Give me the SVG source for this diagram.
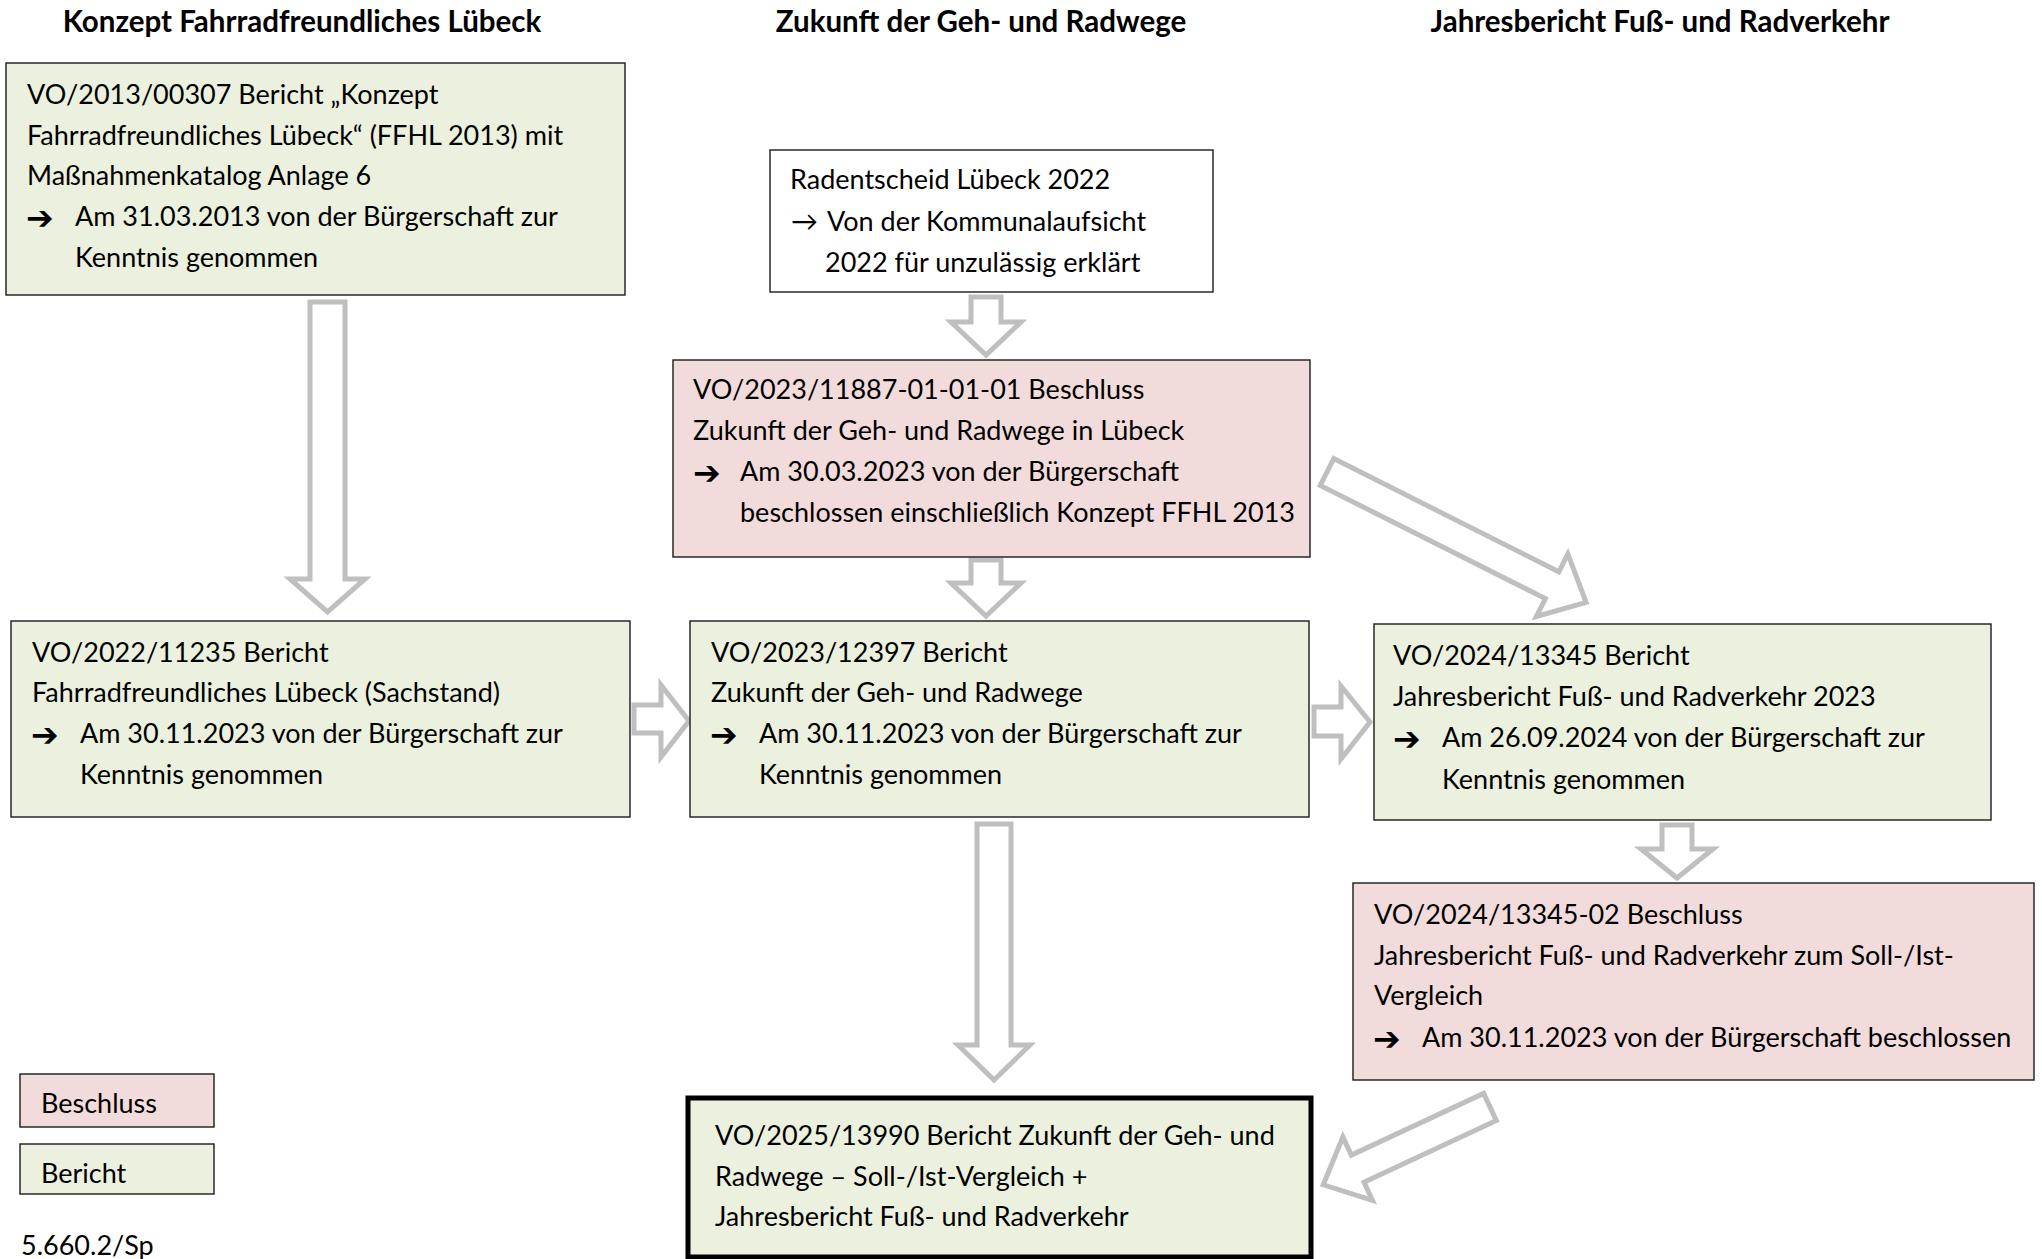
<svg xmlns="http://www.w3.org/2000/svg" width="2042" height="1259" viewBox="0 0 2042 1259">
<style>
.t{font-family:Lato,"Liberation Sans",sans-serif;font-size:27px;fill:#000}
.h{font-weight:bold;text-anchor:middle;font-size:29.5px}
.ar{font-family:"DejaVu Sans",sans-serif;font-size:33px;font-weight:bold;fill:#000}
.bx{stroke:#1a1a1a;stroke-width:1.4}
.gr{fill:#EBF1DE}
.pk{fill:#F2DCDB}
.wh{fill:#ffffff}
.fin{fill:#EBF1DE;stroke:#000;stroke-width:5}
.arrow{fill:#ffffff;stroke:#bfbfbf;stroke-width:5;stroke-linejoin:miter}
</style>
<rect x="0" y="0" width="2042" height="1259" fill="#ffffff"/>

<g id="titles">
<text class="t h" x="302" y="32">Konzept Fahrradfreundliches Lübeck</text>
<text class="t h" x="981" y="32">Zukunft der Geh- und Radwege</text>
<text class="t h" x="1660" y="32">Jahresbericht Fuß- und Radverkehr</text>
</g>

<g id="connectors">
<polygon class="arrow" points="310,302 345,302 345,579 365,579 327.5,612 290,579 310,579"/>
<polygon class="arrow" points="971,297 1001,297 1001,322 1021,322 986,355 951,322 971,322"/>
<polygon class="arrow" points="971,560 1001,560 1001,583 1021,583 986,616 951,583 971,583"/>
<polygon class="arrow" points="634,705 661,705 661,685 689,721 661,757 661,733 634,733"/>
<polygon class="arrow" points="1314,707 1341,707 1341,686 1370,722 1341,759 1341,736 1314,736"/>
<polygon class="arrow" points="977,824 1011,824 1011,1045 1030,1045 994,1080 958,1045 977,1045"/>
<polygon class="arrow" points="1662,825 1692,825 1692,849 1713,849 1677,878 1641,849 1662,849"/>
<polygon class="arrow" transform="translate(1327,472) rotate(26.7)" points="0,-15 252,-15 252,-35 290,0 252,35 252,15 0,15"/>
<polygon class="arrow" transform="translate(1490,1107) rotate(155)" points="0,-15 146,-15 146,-35 184,0 146,35 146,15 0,15"/>
</g>

<g id="n-ffhl2013">
<rect class="bx gr" x="6" y="63" width="619" height="232"/>
<text class="t" x="27" y="104">VO/2013/00307 Bericht „Konzept</text>
<text class="t" x="27" y="145">Fahrradfreundliches Lübeck“ (FFHL 2013) mit</text>
<text class="t" x="27" y="185">Maßnahmenkatalog Anlage 6</text>
<text class="ar" x="26" y="229">➔</text>
<text class="t" x="75" y="226">Am 31.03.2013 von der Bürgerschaft zur</text>
<text class="t" x="75" y="267">Kenntnis genommen</text>
</g>

<g id="n-radentscheid">
<rect class="bx wh" x="770" y="150" width="443" height="142"/>
<text class="t" x="790" y="189">Radentscheid Lübeck 2022</text>
<text class="t" x="791" y="231" font-family="DejaVu Sans">→</text>
<text class="t" x="827" y="231">Von der Kommunalaufsicht</text>
<text class="t" x="825" y="272">2022 für unzulässig erklärt</text>
</g>

<g id="n-beschluss2023">
<rect class="bx pk" x="673" y="360" width="637" height="197"/>
<text class="t" x="693" y="399">VO/2023/11887-01-01-01 Beschluss</text>
<text class="t" x="693" y="440">Zukunft der Geh- und Radwege in Lübeck</text>
<text class="ar" x="693" y="484">➔</text>
<text class="t" x="740" y="481">Am 30.03.2023 von der Bürgerschaft</text>
<text class="t" x="740" y="522">beschlossen einschließlich Konzept FFHL 2013</text>
</g>

<g id="n-bericht2022">
<rect class="bx gr" x="11" y="621" width="619" height="196"/>
<text class="t" x="32" y="662">VO/2022/11235 Bericht</text>
<text class="t" x="32" y="702">Fahrradfreundliches Lübeck (Sachstand)</text>
<text class="ar" x="31" y="746">➔</text>
<text class="t" x="80" y="743">Am 30.11.2023 von der Bürgerschaft zur</text>
<text class="t" x="80" y="784">Kenntnis genommen</text>
</g>

<g id="n-bericht2023">
<rect class="bx gr" x="690" y="621" width="619" height="196"/>
<text class="t" x="711" y="662">VO/2023/12397 Bericht</text>
<text class="t" x="711" y="702">Zukunft der Geh- und Radwege</text>
<text class="ar" x="710" y="746">➔</text>
<text class="t" x="759" y="743">Am 30.11.2023 von der Bürgerschaft zur</text>
<text class="t" x="759" y="784">Kenntnis genommen</text>
</g>

<g id="n-bericht2024">
<rect class="bx gr" x="1374" y="624" width="617" height="196"/>
<text class="t" x="1393" y="665">VO/2024/13345 Bericht</text>
<text class="t" x="1393" y="706">Jahresbericht Fuß- und Radverkehr 2023</text>
<text class="ar" x="1393" y="750">➔</text>
<text class="t" x="1442" y="747">Am 26.09.2024 von der Bürgerschaft zur</text>
<text class="t" x="1442" y="789">Kenntnis genommen</text>
</g>

<g id="n-beschluss2024">
<rect class="bx pk" x="1353" y="883" width="681" height="197"/>
<text class="t" x="1374" y="924">VO/2024/13345-02 Beschluss</text>
<text class="t" x="1374" y="965">Jahresbericht Fuß- und Radverkehr zum Soll-/Ist-</text>
<text class="t" x="1374" y="1005">Vergleich</text>
<text class="ar" x="1373" y="1050">➔</text>
<text class="t" x="1422" y="1047">Am 30.11.2023 von der Bürgerschaft beschlossen</text>
</g>

<g id="n-bericht2025">
<rect class="fin" x="688" y="1098" width="623" height="159"/>
<text class="t" x="715" y="1145">VO/2025/13990 Bericht Zukunft der Geh- und</text>
<text class="t" x="715" y="1186">Radwege – Soll-/Ist-Vergleich +</text>
<text class="t" x="715" y="1226">Jahresbericht Fuß- und Radverkehr</text>
</g>

<g id="legend">
<rect class="bx pk" x="20" y="1074" width="194" height="53"/>
<text class="t" x="41" y="1113">Beschluss</text>
<rect class="bx gr" x="20" y="1144" width="194" height="50"/>
<text class="t" x="41" y="1183">Bericht</text>
<text class="t" x="21" y="1255">5.660.2/Sp</text>
</g>
</svg>
